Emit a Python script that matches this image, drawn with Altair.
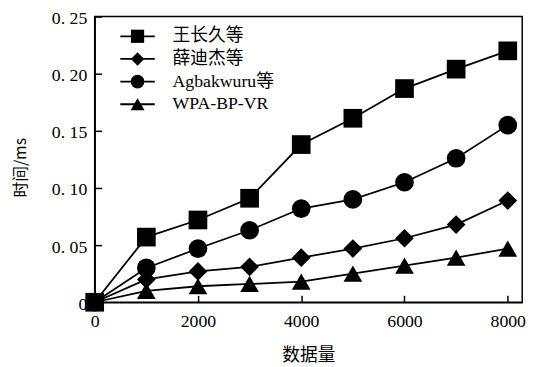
import altair as alt
import pandas as pd

sizes = [0, 1000, 2000, 3000, 4000, 5000, 6000, 7000, 8000]
series = ["王长久等", "薛迪杰等", "Agbakwuru等", "WPA-BP-VR"]
wang = [0.0, 0.057, 0.072, 0.091, 0.138, 0.161, 0.187, 0.204, 0.220]
xue = [0.0, 0.020, 0.027, 0.031, 0.039, 0.047, 0.056, 0.068, 0.089]
agb = [0.0, 0.030, 0.047, 0.063, 0.082, 0.090, 0.105, 0.126, 0.155]
wpa = [0.0, 0.010, 0.014, 0.016, 0.018, 0.025, 0.032, 0.039, 0.047]
shapes = ["square", "diamond", "circle", "triangle-up"]
marker_sizes = [360, 360, 400, 470]
legend_marker_sizes = [180, 200, 200, 260]
x_ticks = [0, 2000, 4000, 6000, 8000]
y_ticks = [0, 0.05, 0.10, 0.15, 0.20, 0.25]

rows = []
for name, vals in zip(series, [wang, xue, agb, wpa]):
    for s, v in zip(sizes, vals):
        rows.append({"series": name, "size": s, "time": v})
df = pd.DataFrame(rows)
legend_df = pd.DataFrame({"series": series})

serif = "Liberation Serif"
cjk = "Noto Sans CJK SC"

x_scale = alt.Scale(domain=[0, 8280], nice=False, zero=False)
x_axis = alt.Axis(values=x_ticks, title="数据量", format="d",
                  tickSize={"expr": "-7"}, labelPadding=18,
                  labelFont=serif, labelFontSize=18, labelFontWeight="normal",
                  labelFlush=False, labelOverlap=False,
                  titleFont=cjk, titleFontSize=18, titleFontWeight="normal",
                  titleY=54, titleBaseline="middle")
y_scale = alt.Scale(domain=[0, 0.25], nice=False)
y_axis = alt.Axis(values=y_ticks, title="时间/ms", tickSize={"expr": "-7"}, labelPadding=15,
                  labelOffset=2,
                  labelExpr="datum.value == 0 ? '0' : replace(format(datum.value, '.2f'), '.', '. ')",
                  labelFont=serif, labelFontSize=18, labelFontWeight="normal",
                  labelFlush=False, labelOverlap=False,
                  titleFont=cjk, titleFontSize=16, titleFontWeight="normal",
                  titleX=-75, titleY=153, titleAngle=270, titleBaseline="middle")
shape_scale = alt.Scale(domain=series, range=shapes)

lines = alt.Chart(df).mark_line(color="black", strokeWidth=1.8).encode(
    x=alt.X("size:Q", scale=x_scale, axis=x_axis),
    y=alt.Y("time:Q", scale=y_scale, axis=y_axis),
    detail="series:N",
)
points = alt.Chart(df).mark_point(filled=True, color="black", opacity=1).encode(
    x=alt.X("size:Q", scale=x_scale, axis=x_axis),
    y=alt.Y("time:Q", scale=y_scale, axis=y_axis),
    shape=alt.Shape("series:N", scale=shape_scale, legend=None),
    size=alt.Size("series:N", scale=alt.Scale(domain=series, range=marker_sizes), legend=None),
)
main = alt.layer(lines, points)

leg_y = alt.Y("series:N", sort=series,
              scale=alt.Scale(type="point", domain=series, range=[20, 89], padding=0),
              axis=None)
leg_rule = alt.Chart(legend_df).mark_rule(color="black", strokeWidth=1.8).encode(
    x=alt.value(26), x2=alt.value(61), y=leg_y)
leg_point = alt.Chart(legend_df).mark_point(filled=True, color="black", opacity=1).encode(
    x=alt.value(43.5), y=leg_y,
    shape=alt.Shape("series:N", scale=shape_scale, legend=None),
    size=alt.Size("series:N", scale=alt.Scale(domain=series, range=legend_marker_sizes),
                  legend=None))
leg_text = alt.Chart(legend_df).mark_text(align="left", baseline="middle", fontSize=18,
                                          font="Liberation Serif, Noto Sans CJK SC",
                                          color="black").encode(
    x=alt.value(79), y=leg_y, text="series:N")
legend = alt.layer(leg_rule, leg_point, leg_text)

chart = alt.layer(main, legend).resolve_scale(
    y="independent", size="independent"
).properties(
    width=434, height=290,
    autosize=alt.AutoSizeParams(type="none"),
    padding={"left": 88, "top": 6, "right": 15, "bottom": 61},
).configure_view(
    stroke="black", strokeWidth=1.5
).configure_axis(
    grid=False, domainColor="black", domainWidth=1.5, tickColor="black", tickWidth=1.5,
    labelColor="black", titleColor="black"
)

chart.save("out.html", embed_options={"renderer": "svg", "actions": False})
